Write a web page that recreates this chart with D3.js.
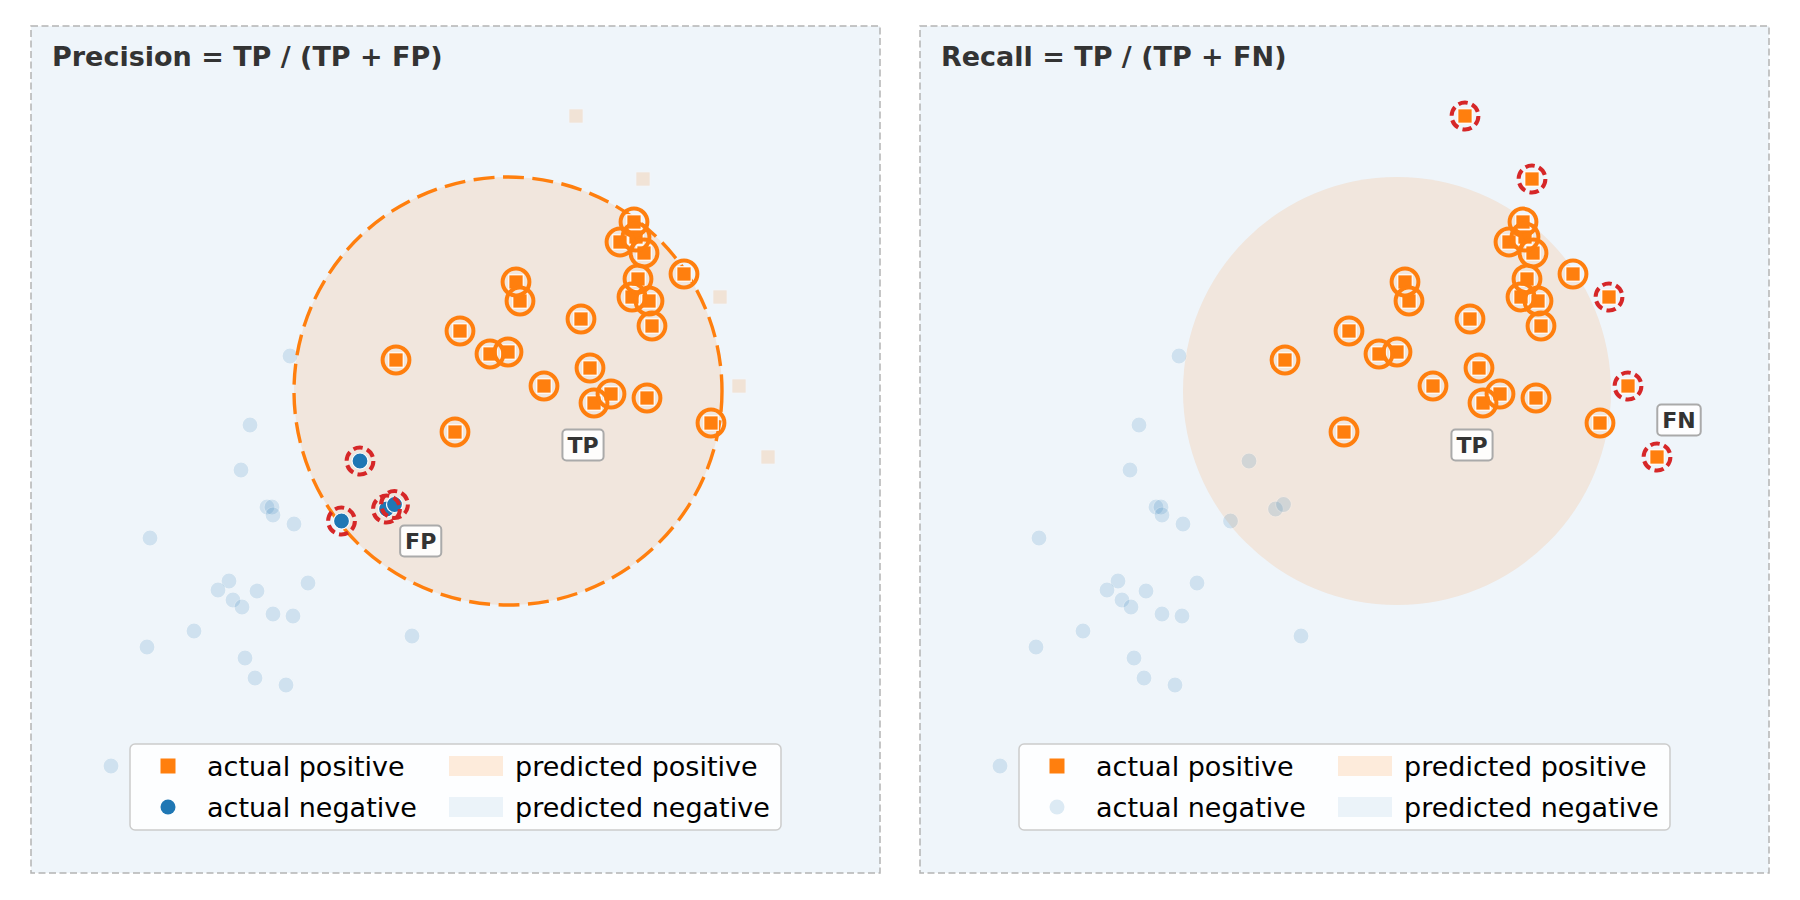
<!DOCTYPE html>
<html>
<head>
<meta charset="utf-8">
<script src="https://cdn.jsdelivr.net/npm/d3@7"></script>
<style>
  body { margin: 0; background: #fff; }
  svg { display: block; font-family: "DejaVu Sans", sans-serif; }
</style>
</head>
<body>
<svg id="chart" width="1800" height="900"></svg>
<script>
// actual positives (orange squares)
const posX = [1.26, 1.12, 1.36, 1.28, 1.76, 1.30, 1.24, 1.41, 1.44, 0.08, 0.12, 0.73, -0.48, -1.12,
              -0.18, 0.00, 0.82, 0.36, 1.03, 0.86, 1.39, 2.03, -0.53,
              0.68, 1.35, 2.12, 2.31, 2.60];
const posY = [1.69, 1.49, 1.38, 1.54, 1.17, 1.12, 0.94, 0.90, 0.65, 1.09, 0.90, 0.72, 0.60, 0.31,
              0.37, 0.39, 0.23, 0.05, -0.03, -0.12, -0.07, -0.32, -0.41,
              2.75, 2.12, 0.94, 0.05, -0.66];

// actual negatives (blue dots)
const negX = [-1.48, -1.215, -1.135, -1.665,
              -2.18, -2.58, -2.67, -2.41, -2.36, -2.35, -2.14, -3.58, -2.79, -2.90, -2.51, -2.00,
              -2.75, -2.66, -2.35, -2.15, -3.14, -3.61, -0.96, -2.63, -2.53, -2.22, -3.97];
const negY = [-0.70, -1.18, -1.135, -1.30,
              0.35, -0.34, -0.79, -1.16, -1.16, -1.24, -1.33, -1.47, -1.90, -1.99, -2.00, -1.92,
              -2.09, -2.16, -2.23, -2.25, -2.40, -2.56, -2.45, -2.67, -2.87, -2.94, -3.75];

// decision region: predicted positive inside this circle
const regionCenter = [0, 0];
const regionRadius = 2.14;

const titles = ["Precision = TP / (TP + FP)", "Recall = TP / (TP + FN)"];
const legendLabels = [["actual positive", "actual negative"], ["predicted positive", "predicted negative"]];

// box labels per panel: [text, x, y]
const tags = [
  [["TP", 0.75, -0.54], ["FP", -0.873, -1.50]],
  [["TP", 0.75, -0.54], ["FN", 2.82, -0.29]]
];

const ORANGE = "#ff7f0e", BLUE = "#1f77b4", RED = "#d62728";
const W = 849, H = 847;
const panelX = [31, 920], panelY = 26;

const svg = d3.select("#chart");

const x = d3.scaleLinear().domain([-4.77, 3.72]).range([0, W]);
const y = d3.scaleLinear().domain([-4.82, 3.65]).range([H, 0]);
const rPx = x(regionRadius) - x(0);

const pos = posX.map((v, i) => ({x: v, y: posY[i]}));
const neg = negX.map((v, i) => ({x: v, y: negY[i]}));
const inside = d => Math.hypot(d.x - regionCenter[0], d.y - regionCenter[1]) < regionRadius;

const SQ = 14.5;

function squares(g, data, faded) {
    g.selectAll(null).data(data).enter().append("rect")
        .attr("x", d => x(d.x) - SQ / 2)
        .attr("y", d => y(d.y) - SQ / 2)
        .attr("width", SQ).attr("height", SQ)
        .attr("fill", ORANGE)
        .attr("stroke", "#fff").attr("stroke-width", 1.2)
        .attr("opacity", faded ? 0.15 : 1);
}

function dots(g, data, faded) {
    g.selectAll(null).data(data).enter().append("circle")
        .attr("cx", d => x(d.x)).attr("cy", d => y(d.y))
        .attr("r", 8)
        .attr("fill", BLUE)
        .attr("stroke", "#fff").attr("stroke-width", 1.2)
        .attr("opacity", faded ? 0.15 : 1);
}

function rings(g, data, color, dashed) {
    g.selectAll(null).data(data).enter().append("circle")
        .attr("cx", d => x(d.x)).attr("cy", d => y(d.y))
        .attr("r", 13.4)
        .attr("fill", "none")
        .attr("stroke", color).attr("stroke-width", 4)
        .attr("stroke-dasharray", dashed ? "9.5,4.5" : null);
}

function drawPanel(i) {
    const precision = i === 0;
    const g = svg.append("g").attr("transform", `translate(${panelX[i]},${panelY})`);

    g.append("rect").attr("width", W).attr("height", H)
        .attr("fill", BLUE).attr("fill-opacity", 0.07);

    g.append("circle")
        .attr("cx", x(regionCenter[0])).attr("cy", y(regionCenter[1])).attr("r", rPx)
        .attr("fill", ORANGE).attr("fill-opacity", 0.12);

    const tp = pos.filter(inside), fn = pos.filter(d => !inside(d));
    const fp = neg.filter(inside), tn = neg.filter(d => !inside(d));

    if (precision) {
        dots(g, tn, true);
        squares(g, fn, true);
        g.append("circle")
            .attr("cx", x(regionCenter[0])).attr("cy", y(regionCenter[1])).attr("r", rPx)
            .attr("fill", "none").attr("stroke", ORANGE)
            .attr("stroke-width", 3.4).attr("stroke-dasharray", "21,8.5");
        dots(g, fp, false);
        rings(g, fp, RED, true);
        squares(g, tp, false);
        rings(g, tp, ORANGE, false);
    } else {
        dots(g, neg, true);
        squares(g, pos, false);
        rings(g, tp, ORANGE, false);
        rings(g, fn, RED, true);
    }

    // tag boxes
    tags[i].forEach(([label, tx, ty]) => {
        const tg = g.append("g").attr("transform", `translate(${x(tx)},${y(ty)})`);
        const box = tg.append("rect");
        const t = tg.append("text")
            .attr("text-anchor", "middle").attr("dy", "0.36em")
            .attr("font-size", 22).attr("font-weight", "bold").attr("fill", "#333")
            .text(label);
        const bb = t.node().getBBox();
        box.attr("x", bb.x - 5).attr("y", -15.5)
            .attr("width", bb.width + 10).attr("height", 31)
            .attr("rx", 4)
            .attr("fill", "#fff").attr("fill-opacity", 0.9)
            .attr("stroke", "#aaa").attr("stroke-width", 2);
    });

    // title
    g.append("text")
        .attr("x", 21).attr("y", 40)
        .attr("font-size", 27).attr("font-weight", "bold").attr("fill", "#333")
        .text(titles[i]);

    // legend
    const lg = g.append("g").attr("transform", "translate(99,718)");
    lg.append("rect").attr("width", 651).attr("height", 86).attr("rx", 5)
        .attr("fill", "#fff").attr("fill-opacity", 0.85)
        .attr("stroke", "#ccc").attr("stroke-width", 1.5);
    const rows = [22, 63];
    lg.append("rect").attr("x", 38 - 7.5).attr("y", rows[0] - 7.5)
        .attr("width", 15).attr("height", 15).attr("fill", ORANGE);
    lg.append("circle").attr("cx", 38).attr("cy", rows[1]).attr("r", 7.5)
        .attr("fill", BLUE).attr("opacity", precision ? 1 : 0.15);
    lg.append("rect").attr("x", 319).attr("y", rows[0] - 10).attr("width", 54).attr("height", 20)
        .attr("fill", ORANGE).attr("fill-opacity", 0.15);
    lg.append("rect").attr("x", 319).attr("y", rows[1] - 10).attr("width", 54).attr("height", 20)
        .attr("fill", BLUE).attr("fill-opacity", 0.08);
    legendLabels.forEach((col, c) => {
        col.forEach((label, r) => {
            lg.append("text")
                .attr("x", c === 0 ? 77 : 385).attr("y", rows[r]).attr("dy", "0.36em")
                .attr("font-size", 27).attr("fill", "#000")
                .text(label);
        });
    });

    // dashed frame
    g.append("rect").attr("width", W).attr("height", H)
        .attr("fill", "none").attr("stroke", "#b4b4b4")
        .attr("stroke-width", 1.5).attr("stroke-dasharray", "7,3.5");
}

drawPanel(0);
drawPanel(1);
</script>
</body>
</html>
